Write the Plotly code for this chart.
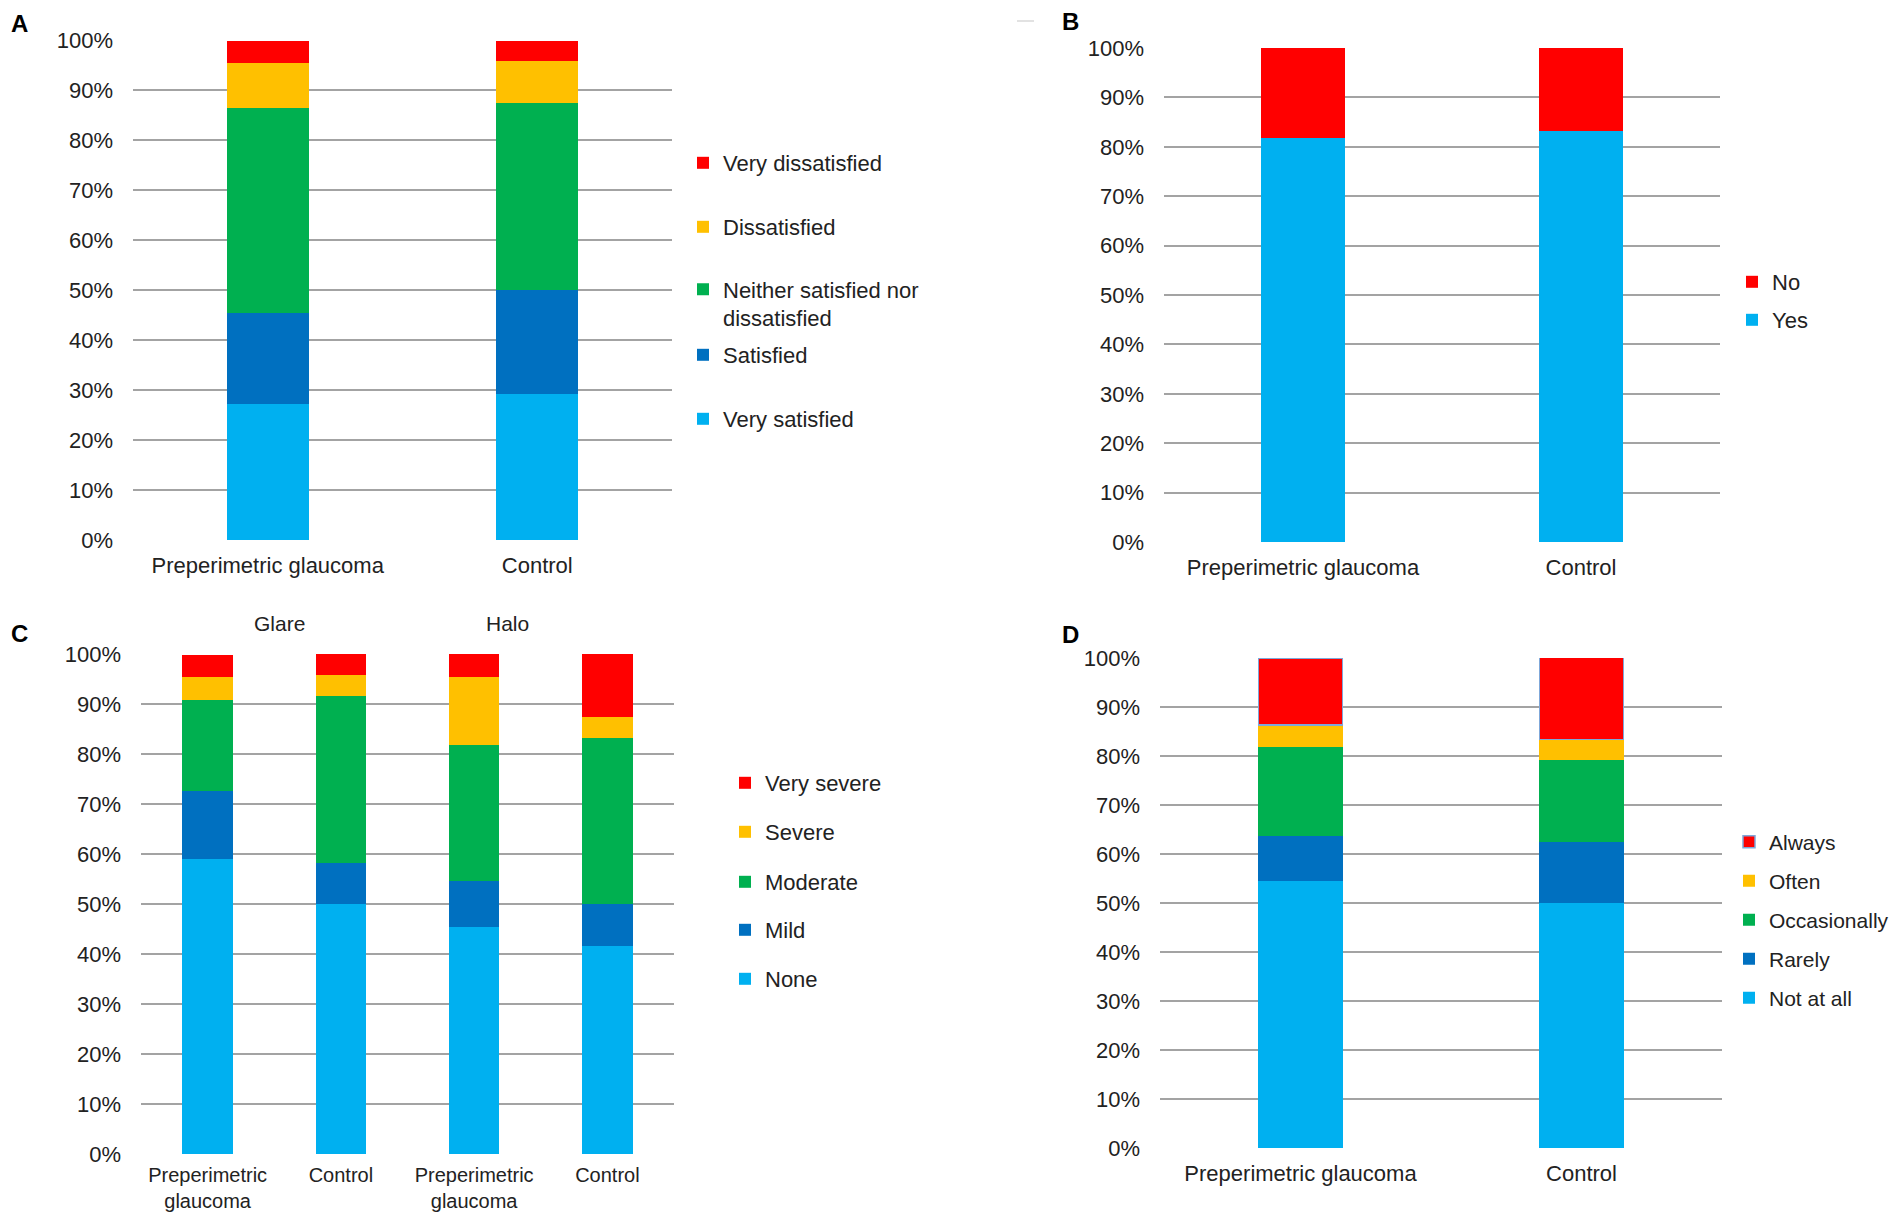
import plotly.graph_objects as go

W, H = 1902, 1216
OFF = 8  # page body margin offset (figure is drawn 8px in from the page corner)

# ---------------- data ----------------
groups = ["Preperimetric glaucoma", "Control"]

# Panel A – satisfaction (%)
A_very_satisfied = [27.3, 29.2]
A_satisfied = [18.2, 20.8]
A_neither = [40.9, 37.5]
A_dissatisfied = [9.1, 8.3]
A_very_dissatisfied = [4.5, 4.2]

# Panel B (%)
B_yes = [81.8, 83.3]
B_no = [18.2, 16.7]

# Panel C – glare / halo severity (%)
C_groups = ["Preperimetric<br>glaucoma", "Control", "Preperimetric<br>glaucoma", "Control"]
C_none = [59.1, 50.0, 45.5, 41.7]
C_mild = [13.6, 8.3, 9.1, 8.3]
C_moderate = [18.2, 33.3, 27.3, 33.3]
C_severe = [4.5, 4.2, 13.6, 4.2]
C_very_severe = [4.5, 4.2, 4.5, 12.5]
C_headers = ["Glare", "Halo"]

# Panel D – frequency (%)
D_not_at_all = [54.5, 50.0]
D_rarely = [9.1, 12.5]
D_occasionally = [18.2, 16.7]
D_often = [4.5, 4.2]
D_always = [13.6, 16.7]

y_ticks = list(range(0, 101, 10))

LIGHT = "#00B0F0"
DARK = "#0070C0"
GREEN = "#00B050"
YELLOW = "#FFC000"
RED = "#FF0000"

FONT = "Liberation Sans, Arial, sans-serif"
TXT = "#222222"
FS = 22

fig = go.Figure()
legend_layouts = {}
counter = [0]


def sx(v):
    return (v - OFF) / W


def sy(v):
    return 1 - (v - OFF) / H


def add_bar(xa, ya, xs, ys, name, color, width, leg_x, leg_y, line=None, valign="middle", fs=FS):
    counter[0] += 1
    lname = "legend" if counter[0] == 1 else f"legend{counter[0]}"
    marker = dict(color=color)
    if line:
        marker["line"] = line
    else:
        marker["line"] = dict(width=0)
    fig.add_trace(go.Bar(x=xs, y=ys, name=name, marker=marker, width=width,
                         xaxis=xa, yaxis=ya, legend=lname, showlegend=True))
    legend_layouts[lname] = dict(
        x=sx(leg_x - 20), y=sy(leg_y), xanchor="left", yanchor="middle",
        bgcolor="rgba(0,0,0,0)", borderwidth=0, valign=valign,
        font=dict(family=FONT, size=fs, color=TXT), itemclick=False, itemdoubleclick=False,
    )


xs2 = [0, 1]
xs4 = [0, 1, 2, 3]

# Panel A
ax = ("x", "y")
lx = 703
add_bar(*ax, xs2, A_very_satisfied, "Very satisfied", LIGHT, 0.305, lx, 419)
add_bar(*ax, xs2, A_satisfied, "Satisfied", DARK, 0.305, lx, 355)
add_bar(*ax, xs2, A_neither, "Neither satisfied nor<br>dissatisfied", GREEN, 0.305, lx, 304, valign="top")
add_bar(*ax, xs2, A_dissatisfied, "Dissatisfied", YELLOW, 0.305, lx, 227)
add_bar(*ax, xs2, A_very_dissatisfied, "Very dissatisfied", RED, 0.305, lx, 163)

# Panel B
ax = ("x2", "y2")
lx = 1752
add_bar(*ax, xs2, B_yes, "Yes", LIGHT, 0.30, lx, 320)
add_bar(*ax, xs2, B_no, "No", RED, 0.30, lx, 282)

# Panel C
ax = ("x3", "y3")
lx = 745
add_bar(*ax, xs4, C_none, "None", LIGHT, 0.38, lx, 979)
add_bar(*ax, xs4, C_mild, "Mild", DARK, 0.38, lx, 930)
add_bar(*ax, xs4, C_moderate, "Moderate", GREEN, 0.38, lx, 882)
add_bar(*ax, xs4, C_severe, "Severe", YELLOW, 0.38, lx, 832)
add_bar(*ax, xs4, C_very_severe, "Very severe", RED, 0.38, lx, 783)

# Panel D
ax = ("x4", "y4")
lx = 1749
add_bar(*ax, xs2, D_not_at_all, "Not at all", LIGHT, 0.30, lx, 998, fs=21)
add_bar(*ax, xs2, D_rarely, "Rarely", DARK, 0.30, lx, 959, fs=21)
add_bar(*ax, xs2, D_occasionally, "Occasionally", GREEN, 0.30, lx, 920, fs=21)
add_bar(*ax, xs2, D_often, "Often", YELLOW, 0.30, lx, 881, fs=21)
add_bar(*ax, xs2, D_always, "Always", RED, 0.30, lx, 842, fs=21,
        line=dict(color="#7FA7D9", width=1.5))

GRID = "#A3A3A3"


def yaxis(top, bottom, anchor):
    return dict(domain=[sy(bottom), sy(top)], anchor=anchor, range=[0, 100], tickvals=y_ticks,
                ticktext=[f"{v}%" for v in y_ticks], showgrid=True, gridcolor=GRID,
                gridwidth=1.6, zeroline=False, showline=False, ticks="",
                ticklabelstandoff=19, tickfont=dict(family=FONT, size=FS, color=TXT),
                fixedrange=True, automargin=False)


def xaxis(left, right, anchor, n, labels, fs=FS, standoff=10):
    return dict(domain=[sx(left), sx(right)], anchor=anchor, range=[-0.5, n - 0.5],
                tickvals=list(range(n)), ticktext=labels, showgrid=False, zeroline=False,
                showline=False, ticks="", ticklabelstandoff=standoff,
                tickfont=dict(family=FONT, size=fs, color=TXT),
                fixedrange=True, automargin=False)


layout = dict(
    width=W, height=H, margin=dict(l=0, r=0, t=0, b=0, autoexpand=False),
    paper_bgcolor="white", plot_bgcolor="white", barmode="stack",
    font=dict(family=FONT, size=FS, color=TXT),
    xaxis=xaxis(133, 672, "y", 2, groups),
    yaxis=yaxis(40.5, 540, "x"),
    xaxis2=xaxis(1164, 1720, "y2", 2, groups),
    yaxis2=yaxis(48, 542, "x2"),
    xaxis3=xaxis(141, 674, "y3", 4, C_groups, fs=20, standoff=7),
    yaxis3=yaxis(654, 1154, "x3"),
    xaxis4=xaxis(1160, 1722, "y4", 2, groups),
    yaxis4=yaxis(658, 1148, "x4"),
)
layout.update(legend_layouts)
fig.update_layout(**layout)

# panel letters
for letter, lx_, ly_ in [("A", 19, 23), ("B", 1070, 22), ("C", 19, 633), ("D", 1070, 634)]:
    fig.add_annotation(text=f"<b>{letter}</b>", xref="paper", yref="paper",
                       x=sx(lx_), y=sy(ly_), xanchor="center", yanchor="middle",
                       showarrow=False, font=dict(family=FONT, size=24, color="#000000"))

# Glare / Halo headers above panel C
for hdr, xpos in zip(C_headers, [0.536, 2.254]):
    fig.add_annotation(text=hdr, xref="x3", yref="paper", x=xpos, y=sy(623),
                       xanchor="center", yanchor="middle", showarrow=False,
                       font=dict(family=FONT, size=FS - 1, color=TXT))

# faint dash near panel B label (as in reference)
fig.add_shape(type="line", xref="paper", yref="paper", x0=sx(1017), x1=sx(1034),
              y0=sy(21), y1=sy(21), line=dict(color="#D9D9D9", width=1.5))

fig.write_html("out.html")
